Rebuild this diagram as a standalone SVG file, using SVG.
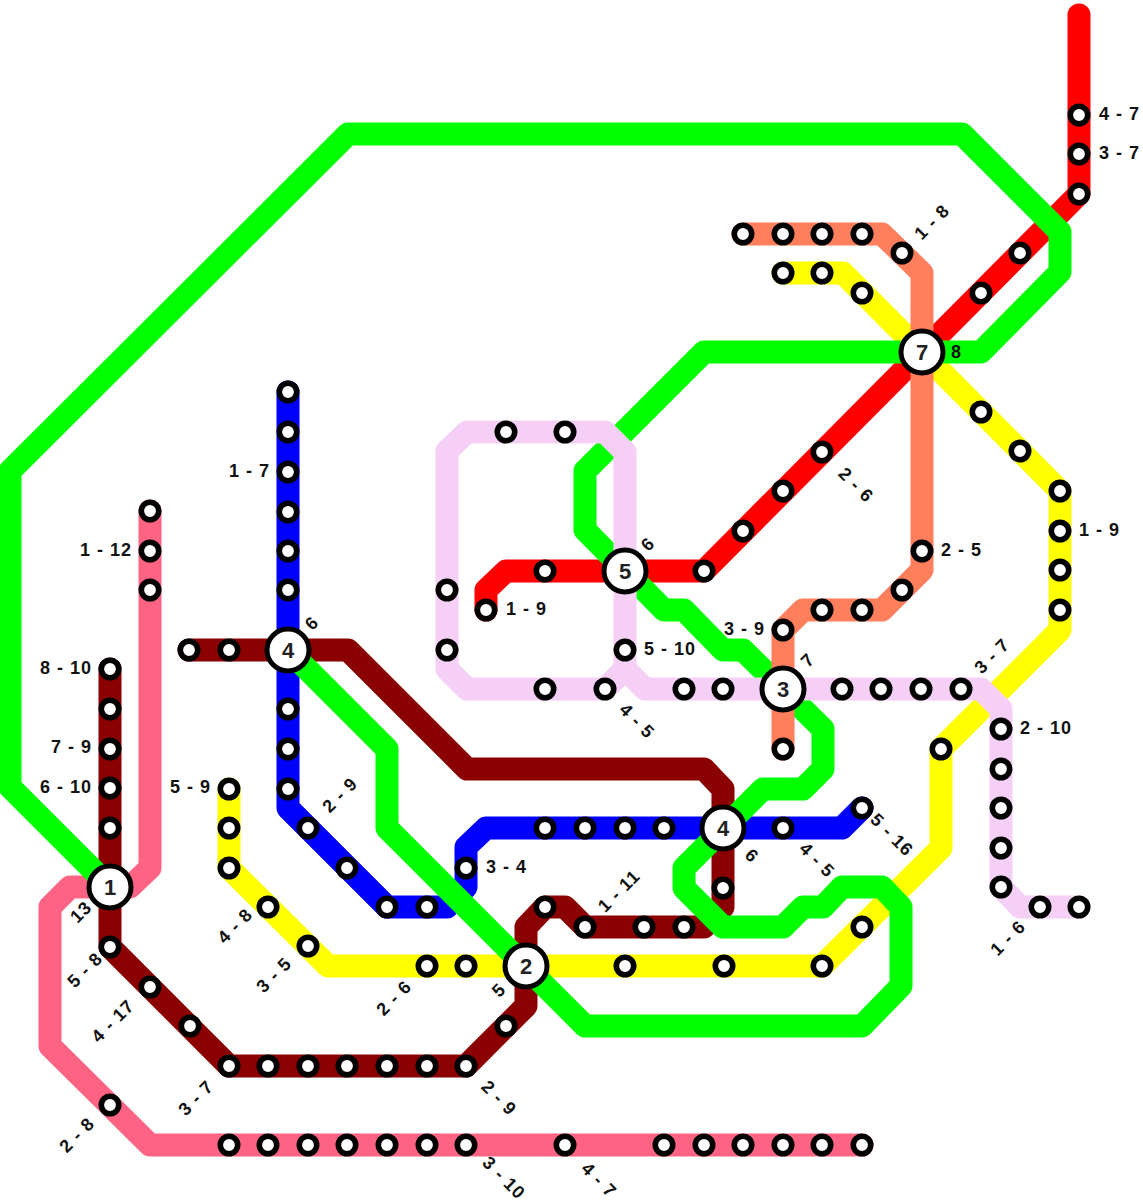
<svg xmlns="http://www.w3.org/2000/svg" width="1143" height="1204" viewBox="0 0 1143 1204">
<style>
.l{fill:none;stroke-width:23;stroke-linejoin:round;stroke-linecap:round}
.s{fill:#fff;stroke:#000;stroke-width:5.6}
.x{fill:#fff;stroke:#000;stroke-width:5}
text{font-family:"Liberation Sans",Arial,sans-serif;font-weight:bold;fill:#111}
.t{font-size:18px;letter-spacing:1px}
.e{font-size:18px;letter-spacing:1px;text-anchor:end}
.m{font-size:18px;letter-spacing:1px;text-anchor:middle}
.n{font-size:22px;text-anchor:middle;fill:#222}
</style>
<defs><circle id="st" r="8.7" class="s"/></defs>
<rect width="1143" height="1204" fill="#fff"/>
<g id="connectors">
<path class="l" stroke="#ff6384" d="M150 511V868L130 887H70L50 907V1046L150 1145H862"/>
<path class="l" stroke="#8b0000" d="M189 650H348L467 769H704L723 789V907L704 927H585L565 907H545L526 927V1006L466 1066H229L110 947V669"/>
<path class="l" stroke="#0000ff" d="M288 392V808L387 907H447L466 887V847L486 828H842L862 808"/>
<path class="l" stroke="#ffff00" d="M783 273H843L1060 491V630L941 749V848L822 966H328L229 868V789"/>
<path class="l" stroke="#ff0000" d="M1079 15V194L704 571H506L486 590V610"/>
<path class="l" stroke="#00ff00" d="M110 887L10 787V471L348 134H962L1060 232V272L981 352H704L585 471V530L664 610H684L723 650H743L823 729V769L803 789H763L684 868V888L723 927H783L803 907H823L842 887H882L901 907V986L862 1026H585L387 828V749L288 650"/>
<path class="l" stroke="#ff7f5c" d="M743 234H882L922 273V570L882 610H803L783 630V749"/>
<path class="l" stroke="#f5cff5" d="M1079 907H1020L1001 887V709L981 689H645L625 669V452L605 432H467L447 451V669L467 689H605L625 669"/>
</g>
<g id="stations">
<use href="#st" x="1079" y="115"/><use href="#st" x="1079" y="154"/><use href="#st" x="1079" y="194"/><use href="#st" x="1020" y="253"/><use href="#st" x="981" y="293"/><use href="#st" x="822" y="452"/><use href="#st" x="783" y="491"/><use href="#st" x="743" y="531"/><use href="#st" x="704" y="571"/><use href="#st" x="545" y="571"/><use href="#st" x="486" y="610"/>
<use href="#st" x="743" y="234"/><use href="#st" x="783" y="234"/><use href="#st" x="822" y="234"/><use href="#st" x="862" y="234"/><use href="#st" x="902" y="253"/><use href="#st" x="922" y="551"/><use href="#st" x="902" y="590"/><use href="#st" x="862" y="610"/><use href="#st" x="822" y="610"/><use href="#st" x="783" y="630"/><use href="#st" x="783" y="749"/>
<use href="#st" x="783" y="273"/><use href="#st" x="822" y="273"/><use href="#st" x="862" y="293"/><use href="#st" x="981" y="412"/><use href="#st" x="1020" y="451"/><use href="#st" x="1060" y="491"/><use href="#st" x="1060" y="531"/><use href="#st" x="1060" y="570"/><use href="#st" x="1060" y="610"/><use href="#st" x="941" y="749"/><use href="#st" x="862" y="927"/><use href="#st" x="822" y="966"/><use href="#st" x="724" y="966"/><use href="#st" x="625" y="966"/><use href="#st" x="466" y="966"/><use href="#st" x="427" y="966"/><use href="#st" x="308" y="946"/><use href="#st" x="268" y="907"/><use href="#st" x="229" y="868"/><use href="#st" x="229" y="828"/><use href="#st" x="229" y="789"/>
<use href="#st" x="506" y="432"/><use href="#st" x="565" y="432"/><use href="#st" x="447" y="590"/><use href="#st" x="447" y="650"/><use href="#st" x="545" y="689"/><use href="#st" x="605" y="689"/><use href="#st" x="625" y="650"/><use href="#st" x="684" y="689"/><use href="#st" x="723" y="689"/><use href="#st" x="842" y="689"/><use href="#st" x="881" y="689"/><use href="#st" x="921" y="689"/><use href="#st" x="961" y="689"/><use href="#st" x="1001" y="729"/><use href="#st" x="1001" y="769"/><use href="#st" x="1001" y="808"/><use href="#st" x="1001" y="848"/><use href="#st" x="1001" y="887"/><use href="#st" x="1040" y="907"/><use href="#st" x="1079" y="907"/>
<use href="#st" x="189" y="650"/><use href="#st" x="229" y="650"/><use href="#st" x="723" y="888"/><use href="#st" x="684" y="927"/><use href="#st" x="644" y="927"/><use href="#st" x="585" y="927"/><use href="#st" x="545" y="907"/><use href="#st" x="506" y="1026"/><use href="#st" x="466" y="1066"/><use href="#st" x="427" y="1066"/><use href="#st" x="387" y="1066"/><use href="#st" x="347" y="1066"/><use href="#st" x="308" y="1066"/><use href="#st" x="268" y="1066"/><use href="#st" x="229" y="1066"/><use href="#st" x="190" y="1026"/><use href="#st" x="150" y="987"/><use href="#st" x="110" y="947"/><use href="#st" x="110" y="828"/><use href="#st" x="110" y="788"/><use href="#st" x="110" y="749"/><use href="#st" x="110" y="709"/><use href="#st" x="110" y="669"/>
<use href="#st" x="288" y="392"/><use href="#st" x="288" y="432"/><use href="#st" x="288" y="472"/><use href="#st" x="288" y="512"/><use href="#st" x="288" y="551"/><use href="#st" x="288" y="590"/><use href="#st" x="288" y="709"/><use href="#st" x="288" y="749"/><use href="#st" x="288" y="789"/><use href="#st" x="308" y="828"/><use href="#st" x="347" y="868"/><use href="#st" x="387" y="907"/><use href="#st" x="427" y="907"/><use href="#st" x="466" y="868"/><use href="#st" x="545" y="828"/><use href="#st" x="585" y="828"/><use href="#st" x="625" y="828"/><use href="#st" x="664" y="828"/><use href="#st" x="783" y="828"/><use href="#st" x="862" y="808"/>
<use href="#st" x="150" y="511"/><use href="#st" x="150" y="551"/><use href="#st" x="150" y="590"/><use href="#st" x="110" y="1105"/><use href="#st" x="229" y="1145"/><use href="#st" x="268" y="1145"/><use href="#st" x="308" y="1145"/><use href="#st" x="347" y="1145"/><use href="#st" x="387" y="1145"/><use href="#st" x="427" y="1145"/><use href="#st" x="466" y="1145"/><use href="#st" x="565" y="1145"/><use href="#st" x="664" y="1145"/><use href="#st" x="704" y="1145"/><use href="#st" x="743" y="1145"/><use href="#st" x="783" y="1145"/><use href="#st" x="822" y="1145"/><use href="#st" x="862" y="1145"/>
</g>
<g id="hub-1"><circle class="x" cx="110" cy="887" r="21"/><text class="n" x="110" y="895">1</text></g>
<g id="hub-2"><circle class="x" cx="526" cy="966" r="21"/><text class="n" x="526" y="974">2</text></g>
<g id="hub-3"><circle class="x" cx="783" cy="689" r="21"/><text class="n" x="783" y="697">3</text></g>
<g id="hub-4a"><circle class="x" cx="288" cy="650" r="21"/><text class="n" x="288" y="658">4</text></g>
<g id="hub-4b"><circle class="x" cx="723" cy="828" r="21"/><text class="n" x="723" y="836">4</text></g>
<g id="hub-5"><circle class="x" cx="625" cy="571" r="21"/><text class="n" x="625" y="579">5</text></g>
<g id="hub-7"><circle class="x" cx="922" cy="352" r="21"/><text class="n" x="922" y="360">7</text></g>
<g id="labels">
<text class="t" x="1099" y="120">4 - 7</text>
<text class="t" x="1099" y="159">3 - 7</text>
<text class="t" x="1079" y="536">1 - 9</text>
<text class="t" x="941" y="556">2 - 5</text>
<text class="t" x="1020" y="734">2 - 10</text>
<text class="t" x="486" y="873">3 - 4</text>
<text class="t" x="644" y="655">5 - 10</text>
<text class="t" x="506" y="615">1 - 9</text>
<text class="e" x="765" y="635">3 - 9</text>
<text class="e" x="270" y="477">1 - 7</text>
<text class="e" x="211" y="793">5 - 9</text>
<text class="e" x="132" y="556">1 - 12</text>
<text class="e" x="92" y="674">8 - 10</text>
<text class="e" x="92" y="753">7 - 9</text>
<text class="e" x="92" y="793">6 - 10</text>
<text class="t" x="951" y="358">8</text>
<text class="m" transform="translate(932 222) rotate(-45)" y="6">1 - 8</text>
<text class="m" transform="translate(856 485) rotate(45)" y="6">2 - 6</text>
<text class="m" transform="translate(992 656) rotate(-45)" y="6">3 - 7</text>
<text class="m" transform="translate(1008 938) rotate(-45)" y="6">1 - 6</text>
<text class="m" transform="translate(892 835) rotate(45)" y="6">5 - 16</text>
<text class="m" transform="translate(817 860) rotate(45)" y="6">4 - 5</text>
<text class="m" transform="translate(752 856) rotate(45)" y="6">6</text>
<text class="m" transform="translate(619 891) rotate(-45)" y="6">1 - 11</text>
<text class="m" transform="translate(808 660) rotate(-45)" y="6">7</text>
<text class="m" transform="translate(648 544) rotate(-45)" y="6">6</text>
<text class="m" transform="translate(637 721) rotate(45)" y="6">4 - 5</text>
<text class="m" transform="translate(312 623) rotate(-45)" y="6">6</text>
<text class="m" transform="translate(340 795) rotate(-45)" y="6">2 - 9</text>
<text class="m" transform="translate(235 926) rotate(-45)" y="6">4 - 8</text>
<text class="m" transform="translate(274 975) rotate(-45)" y="6">3 - 5</text>
<text class="m" transform="translate(394 998) rotate(-45)" y="6">2 - 6</text>
<text class="m" transform="translate(499 990) rotate(-45)" y="6">5</text>
<text class="m" transform="translate(499 1098) rotate(45)" y="6">2 - 9</text>
<text class="m" transform="translate(504 1178) rotate(45)" y="6">3 - 10</text>
<text class="m" transform="translate(599 1180) rotate(45)" y="6">4 - 7</text>
<text class="m" transform="translate(196 1098) rotate(-45)" y="6">3 - 7</text>
<text class="m" transform="translate(77 1135) rotate(-45)" y="6">2 - 8</text>
<text class="m" transform="translate(113 1021) rotate(-45)" y="6">4 - 17</text>
<text class="m" transform="translate(85 970) rotate(-45)" y="6">5 - 8</text>
<text class="m" transform="translate(81 912) rotate(-45)" y="6">13</text>
</g>
</svg>
